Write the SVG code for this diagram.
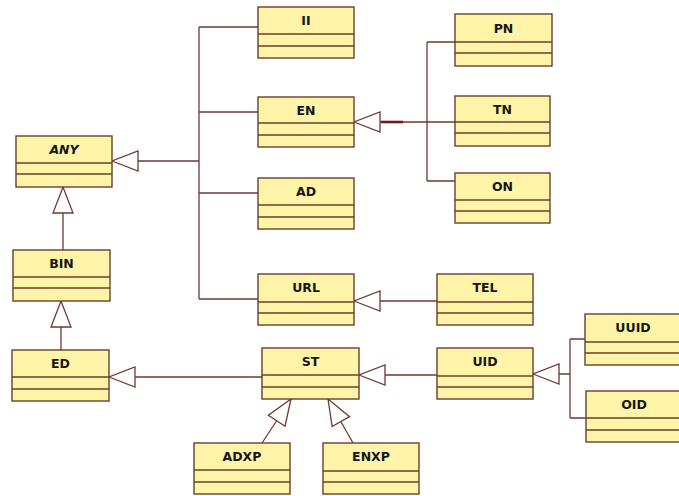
<svg xmlns="http://www.w3.org/2000/svg" width="679" height="496" viewBox="0 0 679 496">
  <style>
    .cls rect { fill: #fff4a8; stroke: #6a3f2c; stroke-width: 1.4; }
    .cls line { stroke: #6a3f2c; stroke-width: 1.4; }
    .cls text { font-family: "DejaVu Sans", "Liberation Sans", sans-serif; font-weight: bold; font-size: 12.5px; fill: #161616; text-anchor: middle; }
    .cls text.abstract { font-style: italic; }
    .cn { fill: none; stroke: #6e3a34; stroke-width: 1.3; }
    .gen { marker-end: url(#hollow); }
    .heavy { stroke: #7c1515; stroke-width: 2.6; fill: none; }
  </style>
  <defs>
    <!-- open triangle for generalization; tip sits on the end point of the path -->
    <marker id="hollow" markerUnits="userSpaceOnUse" viewBox="-28 -12 30 24" refX="0" refY="0" markerWidth="30" markerHeight="24" orient="auto">
      <path d="M0,0 L-26,-10 L-26,10 Z" fill="#ffffff" stroke="#6e3a34" stroke-width="1.3"/>
    </marker>
  </defs>

  <rect width="679" height="496" fill="#ffffff"/>

  <!-- connectors -->
  <g id="connectors">
    <!-- II / EN / AD / URL  to ANY -->
    <path class="cn" d="M199,27 V299"/>
    <path class="cn" d="M199,27 H258 M199,112 H258 M199,193 H258 M199,299 H258"/>
    <path class="cn gen" d="M199,161 H112"/>
    <!-- BIN to ANY, ED to BIN -->
    <path class="cn gen" d="M63,250 V187"/>
    <path class="cn gen" d="M61,350 V301"/>
    <!-- PN / TN / ON to EN -->
    <path class="cn" d="M427,42 V181 M427,42 H455 M427,181 H455 M403,122 H455"/>
    <path class="cn gen" d="M403,122 H354"/>
    <path class="heavy" d="M381,122 H403"/>
    <!-- TEL to URL -->
    <path class="cn gen" d="M437,301 H354"/>
    <!-- ST to ED -->
    <path class="cn gen" d="M262,377 H109"/>
    <!-- UID to ST -->
    <path class="cn gen" d="M437,375 H359"/>
    <!-- UUID / OID to UID -->
    <path class="cn" d="M570,339 V418 M570,339 H585 M570,418 H586"/>
    <path class="cn gen" d="M570,374 H533"/>
    <!-- ADXP / ENXP to ST -->
    <path class="cn gen" d="M262,443 L291,399"/>
    <path class="cn gen" d="M353,443 L328,399"/>
  </g>

  <!-- classes -->
  <g id="ANY" class="cls"><rect x="16" y="136" width="96" height="51"/><line x1="16" y1="163" x2="112" y2="163"/><line x1="16" y1="174" x2="112" y2="174"/><text class="abstract" x="64" y="154">ANY</text></g>
  <g id="BIN" class="cls"><rect x="13" y="250" width="97" height="51"/><line x1="13" y1="277" x2="110" y2="277"/><line x1="13" y1="288" x2="110" y2="288"/><text x="61.5" y="268">BIN</text></g>
  <g id="ED" class="cls"><rect x="12" y="350" width="97" height="51"/><line x1="12" y1="377" x2="109" y2="377"/><line x1="12" y1="389" x2="109" y2="389"/><text x="60.5" y="368">ED</text></g>
  <g id="II" class="cls"><rect x="258" y="7" width="96" height="51"/><line x1="258" y1="34" x2="354" y2="34"/><line x1="258" y1="46" x2="354" y2="46"/><text x="306" y="25">II</text></g>
  <g id="EN" class="cls"><rect x="258" y="97" width="96" height="50"/><line x1="258" y1="123" x2="354" y2="123"/><line x1="258" y1="135" x2="354" y2="135"/><text x="306" y="115">EN</text></g>
  <g id="AD" class="cls"><rect x="258" y="178" width="96" height="51"/><line x1="258" y1="205" x2="354" y2="205"/><line x1="258" y1="217" x2="354" y2="217"/><text x="306" y="196">AD</text></g>
  <g id="URL" class="cls"><rect x="258" y="274" width="96" height="51"/><line x1="258" y1="302" x2="354" y2="302"/><line x1="258" y1="313" x2="354" y2="313"/><text x="306" y="292">URL</text></g>
  <g id="PN" class="cls"><rect x="455" y="14" width="97" height="52"/><line x1="455" y1="42" x2="552" y2="42"/><line x1="455" y1="53" x2="552" y2="53"/><text x="503.5" y="33">PN</text></g>
  <g id="TN" class="cls"><rect x="455" y="96" width="95" height="50"/><line x1="455" y1="122" x2="550" y2="122"/><line x1="455" y1="133" x2="550" y2="133"/><text x="502.5" y="114">TN</text></g>
  <g id="ON" class="cls"><rect x="455" y="173" width="95" height="50"/><line x1="455" y1="200" x2="550" y2="200"/><line x1="455" y1="211" x2="550" y2="211"/><text x="502.5" y="191">ON</text></g>
  <g id="TEL" class="cls"><rect x="437" y="274" width="96" height="51"/><line x1="437" y1="302" x2="533" y2="302"/><line x1="437" y1="313" x2="533" y2="313"/><text x="485" y="292">TEL</text></g>
  <g id="ST" class="cls"><rect x="262" y="348" width="97" height="51"/><line x1="262" y1="375" x2="359" y2="375"/><line x1="262" y1="387" x2="359" y2="387"/><text x="310.5" y="366">ST</text></g>
  <g id="UID" class="cls"><rect x="437" y="348" width="96" height="51"/><line x1="437" y1="376" x2="533" y2="376"/><line x1="437" y1="387" x2="533" y2="387"/><text x="485" y="366">UID</text></g>
  <g id="UUID" class="cls"><rect x="585" y="314" width="96" height="51"/><line x1="585" y1="342" x2="681" y2="342"/><line x1="585" y1="353" x2="681" y2="353"/><text x="633" y="332">UUID</text></g>
  <g id="OID" class="cls"><rect x="586" y="391" width="96" height="51"/><line x1="586" y1="418" x2="682" y2="418"/><line x1="586" y1="430" x2="682" y2="430"/><text x="634" y="409">OID</text></g>
  <g id="ADXP" class="cls"><rect x="194" y="443" width="96" height="51"/><line x1="194" y1="470" x2="290" y2="470"/><line x1="194" y1="482" x2="290" y2="482"/><text x="242" y="461">ADXP</text></g>
  <g id="ENXP" class="cls"><rect x="323" y="443" width="96" height="51"/><line x1="323" y1="471" x2="419" y2="471"/><line x1="323" y1="482" x2="419" y2="482"/><text x="371" y="461">ENXP</text></g>
</svg>
